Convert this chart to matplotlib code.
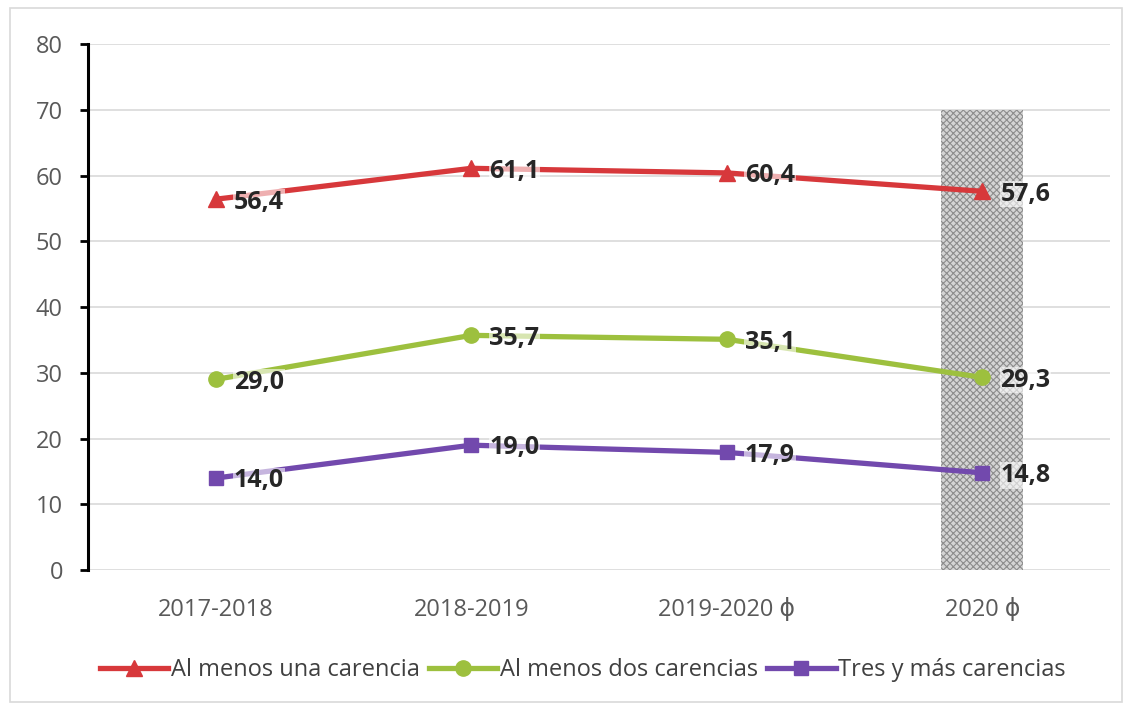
import numpy as np
import matplotlib.pyplot as plt
from matplotlib.patches import Rectangle

periodos = ["2017-2018", "2018-2019", "2019-2020 \u03d5", "2020 \u03d5"]
una = [56.4, 61.1, 60.4, 57.6]
dos = [29.0, 35.7, 35.1, 29.3]
tres = [14.0, 19.0, 17.9, 14.8]
nombres = ["Al menos una carencia", "Al menos dos carencias", "Tres y más carencias"]

plt.rcParams['font.family'] = ['Open Sans', 'DejaVu Sans']
plt.rcParams['hatch.linewidth'] = 0.8

fig = plt.figure(figsize=(11.32, 7.10), dpi=100)
ax = fig.add_axes([0.0777, 0.197, 0.903, 0.741])

# marco exterior
fig.patches.append(Rectangle((0.009, 0.011), 0.982, 0.978, transform=fig.transFigure,
                             fill=False, edgecolor='#d9d9d9', linewidth=1.2))

x = np.arange(len(periodos))

# zona sombreada de 2020
ax.add_patch(Rectangle((x[3] - 0.16, 0), 0.32, 70, facecolor='#d4d4d4',
                       edgecolor='#8c8c8c', hatch='xxxxx', linewidth=0, zorder=1))

series = [
    (una, '#d7383b', '^', 12),
    (dos, '#9dc03e', 'o', 11),
    (tres, '#7249ad', 's', 10),
]
for (y, color, mk, ms), nombre in zip(series, nombres):
    ax.plot(x, y, color=color, linewidth=3.8, marker=mk, markersize=ms,
            label=nombre, zorder=3)
    for xi, yi in zip(x, y):
        ax.annotate(f"{yi:.1f}".replace('.', ','), (xi, yi), xytext=(13, -2),
                    textcoords='offset points', ha='left', va='center',
                    fontsize=18, fontweight='bold', color='#262626', zorder=4,
                    bbox=dict(boxstyle='square,pad=0.03', facecolor='white',
                              edgecolor='none', alpha=0.6))

ax.set_xlim(-0.5, 3.5)
ax.set_ylim(0, 80)
ax.set_yticks(range(0, 81, 10))
ax.set_xticks(x)
ax.set_xticklabels(periodos)
ax.grid(axis='y', color='#d9d9d9', linewidth=1.2, zorder=0)
ax.set_axisbelow(True)

for s in ['top', 'right', 'bottom']:
    ax.spines[s].set_visible(False)
ax.spines['left'].set_linewidth(2.2)
ax.spines['left'].set_color('black')
ax.tick_params(axis='y', length=6, width=2, color='black', labelsize=17,
               labelcolor='#595959', pad=12)
ax.tick_params(axis='x', length=0, labelsize=17, labelcolor='#595959', pad=20)

ax.legend(loc='center', bbox_to_anchor=(0.484, -0.19), ncol=3, frameon=False,
          fontsize=17, labelcolor='#404040', handlelength=2.9, handletextpad=0.1,
          columnspacing=0.4)

fig.savefig('out.png', dpi=100)
